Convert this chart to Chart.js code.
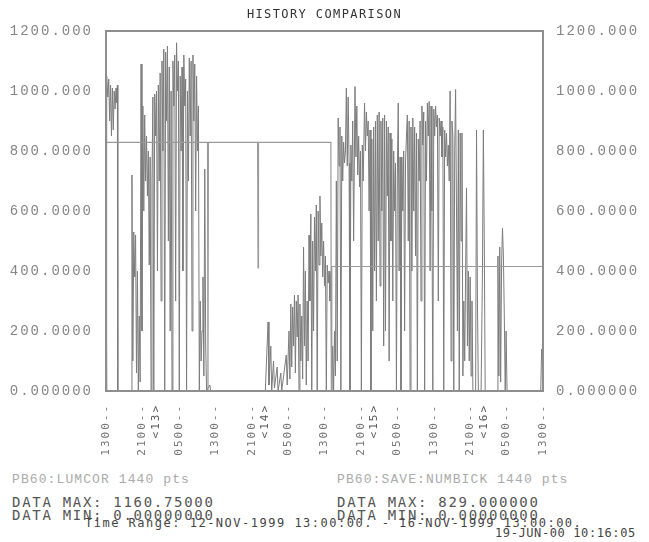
<!DOCTYPE html>
<html>
<head>
<meta charset="utf-8">
<script src="https://cdn.jsdelivr.net/npm/chart.js@4.4.1/dist/chart.umd.min.js"></script>
<style>
  body { margin: 0; background: #fff; }
  #page { position: relative; width: 649px; height: 542px; overflow: hidden; font-family: 'Liberation Mono', 'DejaVu Sans Mono', monospace; }
  #chart { position: absolute; left: 0; top: 0; }
  .txt { position: absolute; white-space: pre; }
  .dm { font-family: 'DejaVu Sans Mono', monospace; font-size: 14px; line-height: 16px; letter-spacing: 1.7px; color: #555; }
</style>
</head>
<body>
<div id="page">
  <canvas id="chart" width="649" height="470"></canvas>
  <div class="txt" style="left:0;width:649px;text-align:center;top:7px;font-family:'DejaVu Sans Mono';font-size:12px;line-height:14px;letter-spacing:1.4px;color:#333">HISTORY COMPARISON</div>
  <div class="txt" style="left:12px;top:472px;font-size:13px;line-height:16px;letter-spacing:1.1px;color:#aaa">PB60:LUMCOR 1440 pts</div>
  <div class="txt" style="left:337px;top:472px;font-size:13px;line-height:16px;letter-spacing:1.1px;color:#aaa">PB60:SAVE:NUMBICK 1440 pts</div>
  <div class="txt dm" style="left:12px;top:494px">DATA MAX: 1160.75000</div>
  <div class="txt dm" style="left:337px;top:494px">DATA MAX: 829.000000</div>
  <div class="txt dm" style="left:12px;top:507px">DATA MIN: 0.00000000</div>
  <div class="txt dm" style="left:337px;top:507px">DATA MIN: 0.00000000</div>
  <div class="txt" style="left:85px;top:516px;font-family:'DejaVu Sans Mono';font-size:12px;line-height:14px;letter-spacing:1.5px;color:#444">Time Range: 12-NOV-1999 13:00:00. - 16-NOV-1999 13:00:00.</div>
  <div class="txt" style="left:495px;top:526px;font-family:'DejaVu Sans Mono';font-size:12px;line-height:14px;letter-spacing:0.6px;color:#444">19-JUN-00 10:16:05</div>
</div>
<script>
// hours after 12-NOV-1999 13:00, value
const lumcor = [
  [0,580],[0.1,0],[0.2,1050],[0.4,980],[0.6,1040],[0.8,900],[1.0,1020],[1.2,850],[1.4,1010],[1.6,870],
  [1.8,1000],[2.0,940],[2.2,1010],[2.4,960],[2.5,1020],[2.6,0],
  [5.5,0],[5.7,720],[5.9,100],[6.1,530],[6.3,380],[6.5,520],[6.7,60],[6.9,400],[7.1,0],[7.3,250],[7.5,30],
  [7.7,1090],[7.9,200],[8.1,950],[8.3,600],[8.5,920],[8.7,700],[8.9,850],[9.1,650],[9.3,800],[9.5,420],
  [9.7,780],[9.9,0],[10.1,700],[10.3,980],[10.5,0],[10.7,990],[10.9,850],[11.1,1000],[11.3,400],[11.5,1020],
  [11.7,700],[11.9,1060],[12.1,300],[12.3,1100],[12.5,800],[12.7,1140],[12.9,0],[13.1,1130],[13.3,900],
  [13.5,1150],[13.7,500],[13.9,1080],[14.1,200],[14.3,1000],[14.5,0],[14.7,1100],[14.9,950],[15.1,1120],
  [15.3,300],[15.5,1160.75],[15.7,1000],[15.9,1100],[16.1,0],[16.3,1050],[16.5,800],[16.7,1080],[16.9,400],
  [17.1,1120],[17.3,950],[17.5,1040],[17.7,0],[17.9,1000],[18.1,700],[18.3,1110],[18.5,850],[18.7,1100],
  [18.9,200],[19.1,1120],[19.3,900],[19.5,1090],[19.7,600],[19.9,1050],[20.1,800],[20.3,950],[20.5,0],
  [20.7,300],[20.9,100],[21.1,200],[21.3,380],[21.5,50],[21.7,740],[21.9,150],[22.1,0],[22.8,20],[23.0,0],
  [35.0,0],[35.6,230],[35.8,20],[36.2,150],[36.4,0],[36.8,100],[37.0,10],[37.6,80],[37.8,0],[38.4,60],
  [38.6,0],[39.6,120],[39.8,20],[40.2,200],[40.4,40],[40.6,290],[40.8,80],[41.0,280],[41.2,150],[41.4,320],
  [41.6,60],[41.8,300],[42.0,180],[42.2,320],[42.4,0],[42.6,290],[42.8,100],[43.0,250],[43.2,40],[43.4,480],
  [43.6,150],[43.8,400],[44.0,20],[44.2,300],[44.4,100],[44.6,520],[44.8,300],[45.0,590],[45.2,0],[45.4,500],
  [45.6,200],[45.8,580],[46.0,400],[46.2,620],[46.4,0],[46.6,600],[46.8,420],[47.0,650],[47.2,450],[47.4,560],
  [47.6,380],[47.8,500],[48.0,350],[48.2,450],[48.4,0],[48.6,420],[48.8,360],[49.0,400],[49.2,300],[49.4,390],
  [49.6,0],[49.8,150],[50.0,0],[50.2,200],[50.4,50],[50.6,700],[50.8,100],[51.0,910],[51.2,750],[51.4,880],
  [51.6,0],[51.8,850],[52.0,700],[52.2,830],[52.4,760],[52.6,800],[52.8,1010],[53.0,750],[53.2,980],[53.4,760],
  [53.6,0],[53.8,820],[54.0,700],[54.2,900],[54.4,500],[54.7,1015],[54.9,780],[55.1,950],[55.3,720],[55.5,850],
  [55.7,680],[55.9,800],[56.1,0],[56.3,820],[56.5,700],[56.8,960],[57.0,800],[57.2,930],[57.4,850],[57.6,900],
  [57.8,600],[58.0,870],[58.2,0],[58.4,840],[58.6,200],[58.8,880],[59.0,400],[59.2,900],[59.4,300],[59.6,920],
  [59.8,500],[60.0,930],[60.2,350],[60.4,900],[60.6,600],[60.8,910],[61.0,150],[61.2,920],[61.4,200],[61.6,900],
  [61.8,650],[62.0,880],[62.2,100],[62.4,860],[62.6,500],[62.8,840],[63.0,300],[63.2,800],[63.4,600],[63.6,760],
  [63.8,0],[64.0,720],[64.2,960],[64.4,400],[64.6,780],[64.8,0],[65.0,780],[65.2,600],[65.4,800],[65.6,200],
  [65.8,760],[66.0,850],[66.2,920],[66.4,500],[66.6,900],[66.8,0],[67.0,880],[67.2,400],[67.4,910],[67.6,600],
  [67.8,880],[68.0,450],[68.2,860],[68.4,0],[68.6,840],[68.8,700],[69.0,900],[69.2,300],[69.4,950],[69.6,820],
  [69.8,930],[70.0,0],[70.2,900],[70.4,700],[70.6,960],[70.8,850],[71.0,965],[71.2,400],[71.4,950],[71.6,600],
  [71.8,0],[72.0,940],[72.2,850],[72.4,950],[72.6,880],[72.8,920],[73.0,300],[73.2,910],[73.4,850],[73.6,900],
  [73.8,780],[74.0,880],[74.2,0],[74.4,870],[74.6,780],[74.8,860],[75.0,750],[75.2,820],[75.4,700],[75.6,1000],
  [75.8,100],[76.0,900],[76.2,850],[76.4,0],[76.6,800],[76.8,1005],[77.0,600],[77.2,200],[77.4,870],[77.6,0],
  [77.8,860],[78.0,500],[78.2,860],[78.4,50],[78.6,300],[78.8,100],[79.0,400],[79.2,677],[79.4,150],[79.6,400],
  [79.8,100],[80.0,380],[80.2,50],[80.4,300],[80.6,0],[81.2,0],[81.4,870],[81.6,300],[81.8,0],[82.4,0],
  [82.7,400],[82.9,870],[83.1,500],[83.3,0],[85.9,0],[86.1,450],[86.3,50],[86.5,480],[86.7,30],[86.9,420],
  [87.1,543],[87.3,450],[87.5,250],[87.7,0],[87.9,200],[88.1,0],[95.5,0],[95.7,140],[96,60]
];

const saveHours  = [0,   22.3, 22.4, 22.5, 33.3, 33.4, 33.5, 49.4, 49.5, 49.6, 96];
const saveValues = [829, 829,  0,    829,  829,  410,  829,  829,  0,    415,  415];

const xTickHours = [0, 8, 16, 24, 32, 40, 48, 56, 64, 72, 80, 88, 96];
const xTickLabels = ['1300--', '2100--', '0500--', '1300--', '2100--', '0500--', '1300--',
                     '2100--', '0500--', '1300--', '2100--', '0500--', '1300--'];
const dayHours = [11, 35, 59, 83];
const dayLabels = ['<13>', '<14>', '<15>', '<16>'];
const yTickLabels = ['0.000000', '200.0000', '400.0000', '600.0000', '800.0000', '1000.000', '1200.000'];

function xLabel(v) {
  let i = xTickHours.indexOf(v);
  if (i >= 0) return xTickLabels[i];
  i = dayHours.indexOf(v);
  return i >= 0 ? dayLabels[i] : '';
}

const monoFont = { family: 'Liberation Mono', size: 14 };

const yScale = (pos) => ({
  position: pos,
  min: 0,
  max: 1200,
  grid: { display: false },
  border: { display: false },
  ticks: { stepSize: 200, padding: 5, color: '#858585', font: monoFont,
           callback: v => yTickLabels[Math.round(v / 200)] },
  afterFit: s => { s.width = 106; }
});

const framePlugin = {
  id: 'frame',
  beforeDraw(c) { c.ctx.letterSpacing = '2px'; },
  afterDatasetsDraw(c) {
    const { ctx, chartArea: a } = c;
    ctx.save();
    ctx.strokeStyle = '#8e8e8e';
    ctx.lineWidth = 2;
    ctx.strokeRect(a.left, a.top, a.right - a.left, a.bottom - a.top);
    ctx.restore();
  }
};

new Chart(document.getElementById('chart'), {
  type: 'line',
  data: {
    datasets: [
      {
        label: 'PB60:SAVE:NUMBICK',
        data: saveHours.map((h, i) => ({ x: h, y: saveValues[i] })),
        borderColor: '#9a9a9a',
        borderWidth: 1.2,
        pointRadius: 0,
        tension: 0
      },
      {
        label: 'PB60:LUMCOR',
        data: lumcor.map(p => ({ x: p[0], y: p[1] })),
        borderColor: '#7c7c7c',
        borderWidth: 1,
        pointRadius: 0,
        tension: 0
      }
    ]
  },
  options: {
    responsive: false,
    animation: false,
    devicePixelRatio: 1,
    layout: { padding: { top: 31, left: 0, right: 0, bottom: 0 } },
    plugins: { legend: { display: false }, tooltip: { enabled: false } },
    scales: {
      x: {
        type: 'linear',
        min: 0,
        max: 96,
        grid: { display: false },
        border: { display: false },
        afterBuildTicks: s => { s.ticks = xTickHours.concat(dayHours).map(v => ({ value: v })); },
        afterFit: s => { s.height = 79; },
        ticks: {
          autoSkip: false,
          minRotation: 90,
          maxRotation: 90,
          padding: 5,
          color: c => dayHours.includes(c.tick.value) ? '#555' : '#777',
          font: { family: 'DejaVu Sans Mono', size: 11 },
          callback: v => xLabel(v)
        }
      },
      y: yScale('left'),
      y2: yScale('right')
    }
  },
  plugins: [framePlugin]
});
</script>
</body>
</html>
